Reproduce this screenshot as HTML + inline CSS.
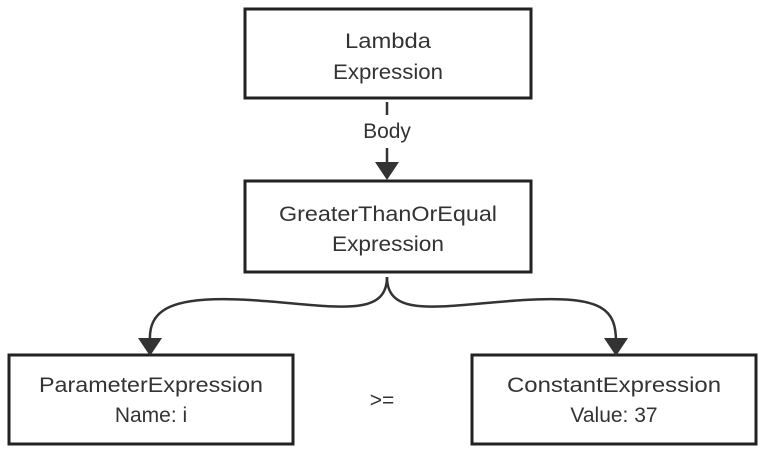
<!DOCTYPE html>
<html><head><style>
body{margin:0;background:#fff;}
svg text{font-family:"Liberation Sans",sans-serif;font-size:21px;fill:#333;text-anchor:middle;}
</style></head><body>
<svg width="765" height="452" viewBox="0 0 765 452">
<g fill="#fff" stroke="#222" stroke-width="3">
<rect x="245" y="9" width="286" height="89"/>
<rect x="245" y="181" width="286" height="91"/>
<rect x="9" y="355" width="284" height="89"/>
<rect x="472" y="355" width="284" height="89"/>
</g>
<g stroke="#333" stroke-width="2.5" fill="none">
<line x1="387" y1="102" x2="387" y2="115"/>
<line x1="387" y1="148" x2="387" y2="168"/>
<path d="M387 277 C387 320 330 305 250 300 C170 295 148 310 150 342"/>
<path d="M387 277 C387 320 444 305 524 300 C604 295 616 310 616 342"/>
</g>
<g fill="#333">
<polygon points="375,162 399,162 387,180"/>
<polygon points="138,338 162,338 150,356"/>
<polygon points="604,338 628,338 616,356"/>
</g>
<text x="388" y="48" textLength="86" lengthAdjust="spacingAndGlyphs">Lambda</text>
<text x="388" y="79" textLength="110" lengthAdjust="spacingAndGlyphs">Expression</text>
<text x="387" y="138">Body</text>
<text x="388" y="221" textLength="218" lengthAdjust="spacingAndGlyphs">GreaterThanOrEqual</text>
<text x="388" y="251" textLength="112" lengthAdjust="spacingAndGlyphs">Expression</text>
<text x="151" y="392" textLength="224" lengthAdjust="spacingAndGlyphs">ParameterExpression</text>
<text x="151" y="422">Name: i</text>
<text x="382" y="407">&gt;=</text>
<text x="614" y="392" textLength="214" lengthAdjust="spacingAndGlyphs">ConstantExpression</text>
<text x="614" y="422">Value: 37</text>
</svg>
</body></html>
